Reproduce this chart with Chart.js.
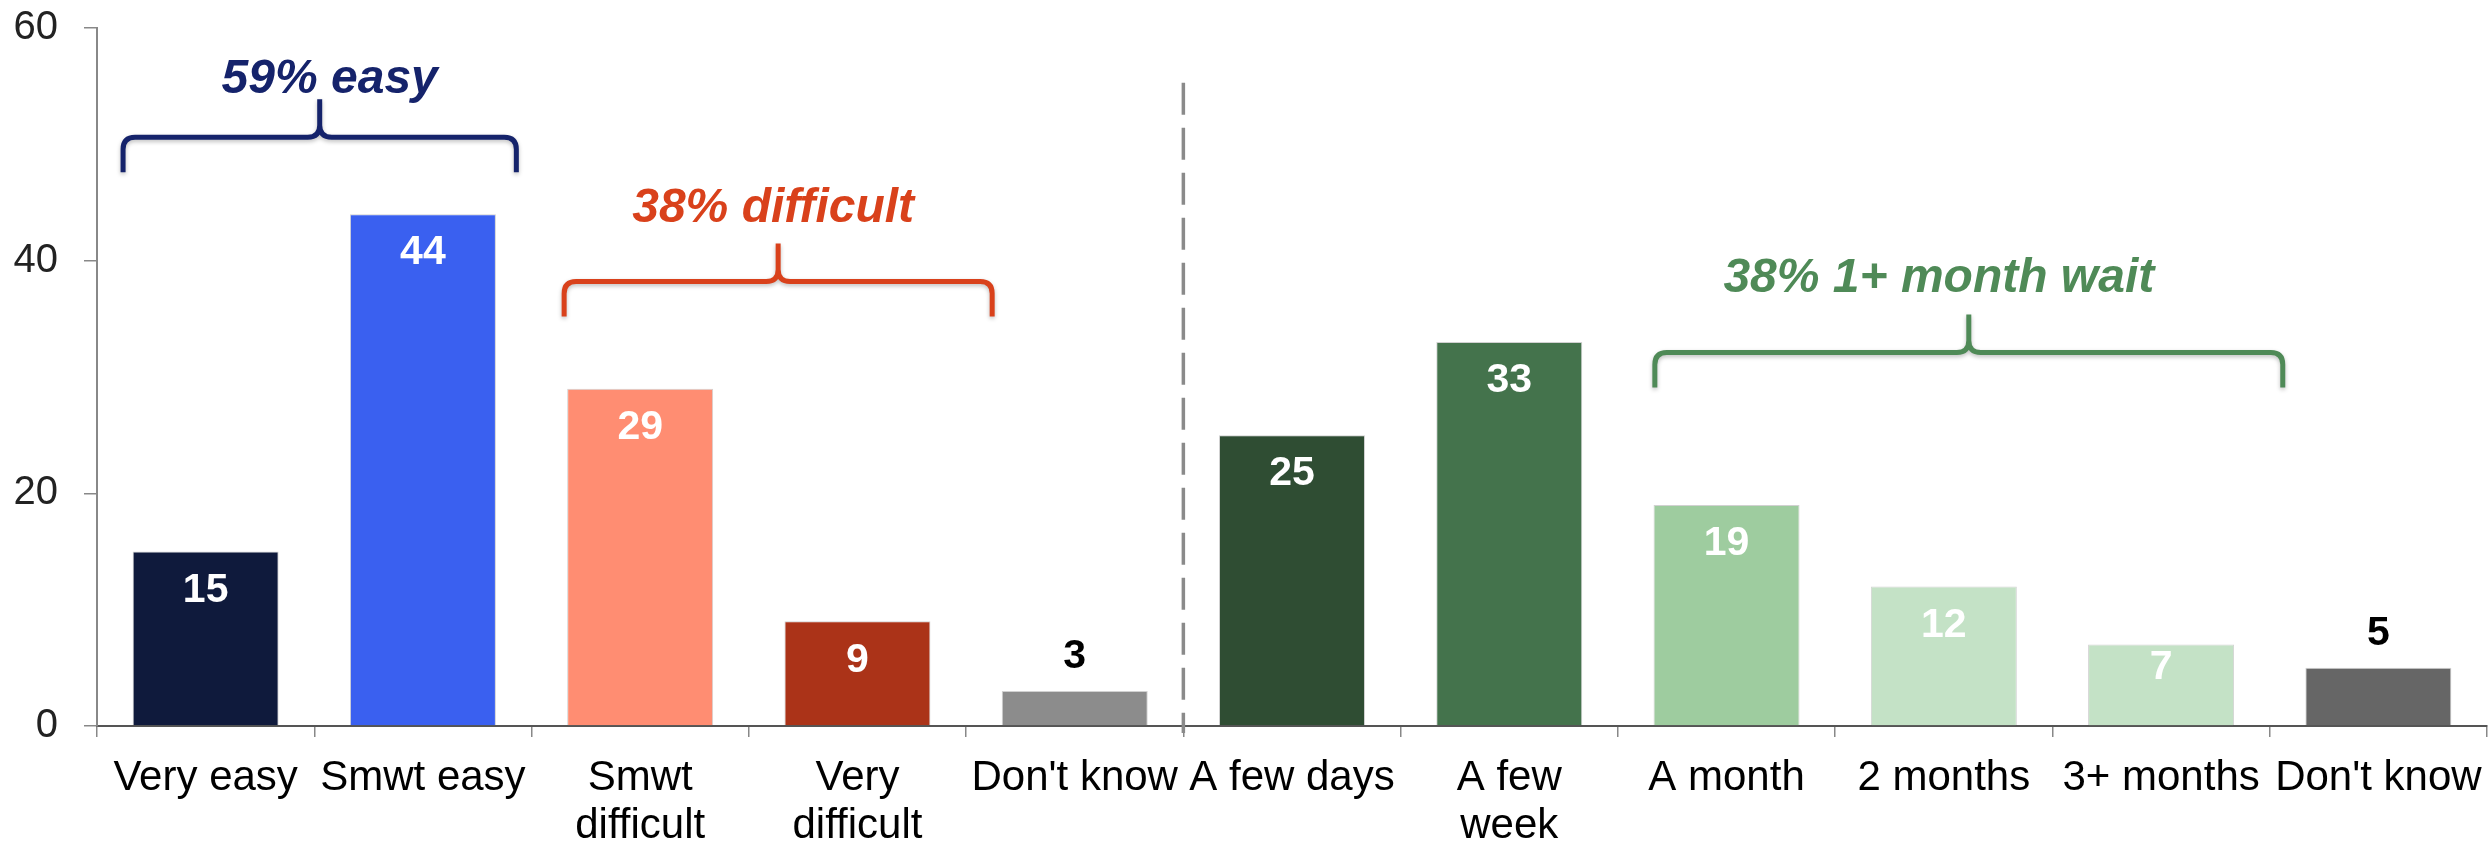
<!DOCTYPE html>
<html>
<head>
<meta charset="utf-8">
<script src="https://cdn.jsdelivr.net/npm/chart.js@4"></script>
<style>
  html, body { margin: 0; padding: 0; background: #fff; }
  #wrap { width: 2492px; height: 842px; position: relative; }
</style>
</head>
<body>
<div id="wrap"><canvas id="waitChart"></canvas></div>
<script>
// categories and values
const categories = [
    ['Very easy'], ['Smwt easy'], ['Smwt', 'difficult'], ['Very', 'difficult'], ["Don't know"],
    ['A few days'], ['A few', 'week'], ['A month'], ['2 months'], ['3+ months'], ["Don't know"]
];
const values = [15, 44, 29, 9, 3, 25, 33, 19, 12, 7, 5];
const barColors = [
    '#0F1A3C', '#3A60F0', '#FF8D72', '#AB3318', '#8C8C8C',
    '#2F4D33', '#44734C', '#9ECC9F', '#C4E2C6', '#C4E2C6', '#666666'
];
const yTicks = [0, 20, 40, 60];

// bracket groups
const groupLabels = ['59% easy', '38% difficult', '38% 1+ month wait'];
const groupColors = ['#15236B', '#D9411B', '#4F8A57'];
const groupFrom = [0, 2, 7];
const groupTo = [1, 3, 9];

// where brackets sit (category units from first/last bar, y in data units)
const bracketGeom = [
    { l: -0.38, r: 0.43, level: 50.6, textY: 54.4, textDx: 10 },
    { l: -0.35, r: 0.62, level: 38.2, textY: 43.3, textDx: -5 },
    { l: -0.33, r: 0.56, level: 32.1, textY: 37.3, textDx: -30 }
];

const extras = {
    id: 'extras',
    afterDatasetsDraw(chart) {
        const ctx = chart.ctx;
        const xs = chart.scales.x;
        const ys = chart.scales.y;
        const area = chart.chartArea;
        const meta = chart.getDatasetMeta(0);
        const cw = xs.getPixelForValue(1) - xs.getPixelForValue(0);

        // value labels
        ctx.save();
        ctx.font = 'bold 41px "Liberation Sans", Arial, sans-serif';
        ctx.textAlign = 'center';
        ctx.textBaseline = 'middle';
        meta.data.forEach((bar, i) => {
            const v = values[i];
            const h = bar.base - bar.y;
            if (v < 6) {
                ctx.fillStyle = '#000';
                ctx.fillText(v, bar.x, bar.y - 34);
            } else {
                ctx.fillStyle = '#fff';
                ctx.fillText(v, bar.x, bar.y + Math.min(39, h - 58));
            }
        });
        ctx.restore();

        // dashed separator
        const sepX = (xs.getPixelForValue(4) + xs.getPixelForValue(5)) / 2;
        ctx.save();
        ctx.strokeStyle = '#8A8A8A';
        ctx.lineWidth = 3.5;
        ctx.setLineDash([32, 13]);
        ctx.beginPath();
        ctx.moveTo(sepX, ys.getPixelForValue(55.3));
        ctx.lineTo(sepX, area.bottom + 7);
        ctx.stroke();
        ctx.restore();

        // brackets
        groupLabels.forEach((label, g) => {
            const geo = bracketGeom[g];
            const x1 = xs.getPixelForValue(groupFrom[g]) + geo.l * cw;
            const x2 = xs.getPixelForValue(groupTo[g]) + geo.r * cw;
            const xm = (x1 + x2) / 2;
            const yh = ys.getPixelForValue(geo.level);
            const yEnd = yh + 35;
            const yPeak = yh - 38;
            const r = 12;

            ctx.save();
            ctx.strokeStyle = groupColors[g];
            ctx.lineWidth = 5;
            ctx.lineCap = 'butt';
            ctx.lineJoin = 'round';
            ctx.shadowColor = 'rgba(0,0,0,0.25)';
            ctx.shadowBlur = 4;
            ctx.shadowOffsetY = 2;
            ctx.beginPath();
            ctx.moveTo(x1, yEnd);
            ctx.lineTo(x1, yh + r);
            ctx.quadraticCurveTo(x1, yh, x1 + r, yh);
            ctx.lineTo(xm - r, yh);
            ctx.quadraticCurveTo(xm, yh, xm, yh - r);
            ctx.lineTo(xm, yPeak);
            ctx.moveTo(xm, yh - r);
            ctx.quadraticCurveTo(xm, yh, xm + r, yh);
            ctx.lineTo(x2 - r, yh);
            ctx.quadraticCurveTo(x2, yh, x2, yh + r);
            ctx.lineTo(x2, yEnd);
            ctx.stroke();
            ctx.restore();

            ctx.save();
            ctx.fillStyle = groupColors[g];
            ctx.font = 'italic bold 48px "Liberation Sans", Arial, sans-serif';
            ctx.textAlign = 'center';
            ctx.textBaseline = 'alphabetic';
            ctx.fillText(label, xm + geo.textDx, ys.getPixelForValue(geo.textY));
            ctx.restore();
        });
    }
};

const ctx = document.getElementById('waitChart').getContext('2d');
new Chart(ctx, {
    type: 'bar',
    data: {
        labels: categories,
        datasets: [{
            data: values,
            backgroundColor: barColors,
            borderColor: 'rgba(0,0,0,0.18)',
            borderWidth: 1,
            barPercentage: 0.672,
            categoryPercentage: 1
        }]
    },
    options: {
        responsive: true,
        maintainAspectRatio: false,
        animation: false,
        layout: { padding: { top: 28, right: 5, left: 0, bottom: 0 } },
        plugins: {
            legend: { display: false },
            tooltip: { enabled: false }
        },
        scales: {
            x: {
                offset: true,
                grid: {
                    offset: true,
                    drawOnChartArea: false,
                    tickLength: 11,
                    color: '#888',
                    lineWidth: 1.5
                },
                border: { color: '#555', width: 2 },
                ticks: {
                    color: '#000',
                    padding: 17,
                    maxRotation: 0,
                    autoSkip: false,
                    font: { family: '"Liberation Sans", Arial, sans-serif', size: 42, lineHeight: 1.15 }
                },
                afterFit(scale) {
                    scale.height = 116;
                    scale.paddingLeft = 0;
                    scale.paddingRight = 0;
                }
            },
            y: {
                min: 0,
                max: 60,
                afterBuildTicks(scale) { scale.ticks = yTicks.map(v => ({ value: v })); },
                grid: {
                    drawOnChartArea: false,
                    tickLength: 13,
                    color: '#888',
                    lineWidth: 1.5
                },
                border: { color: '#888', width: 2 },
                ticks: {
                    color: '#222',
                    padding: 26,
                    font: { family: '"Liberation Sans", Arial, sans-serif', size: 40 }
                },
                afterFit(scale) {
                    scale.width = 97;
                    scale.paddingTop = 0;
                    scale.paddingBottom = 0;
                }
            }
        }
    },
    plugins: [extras]
});
</script>
</body>
</html>
